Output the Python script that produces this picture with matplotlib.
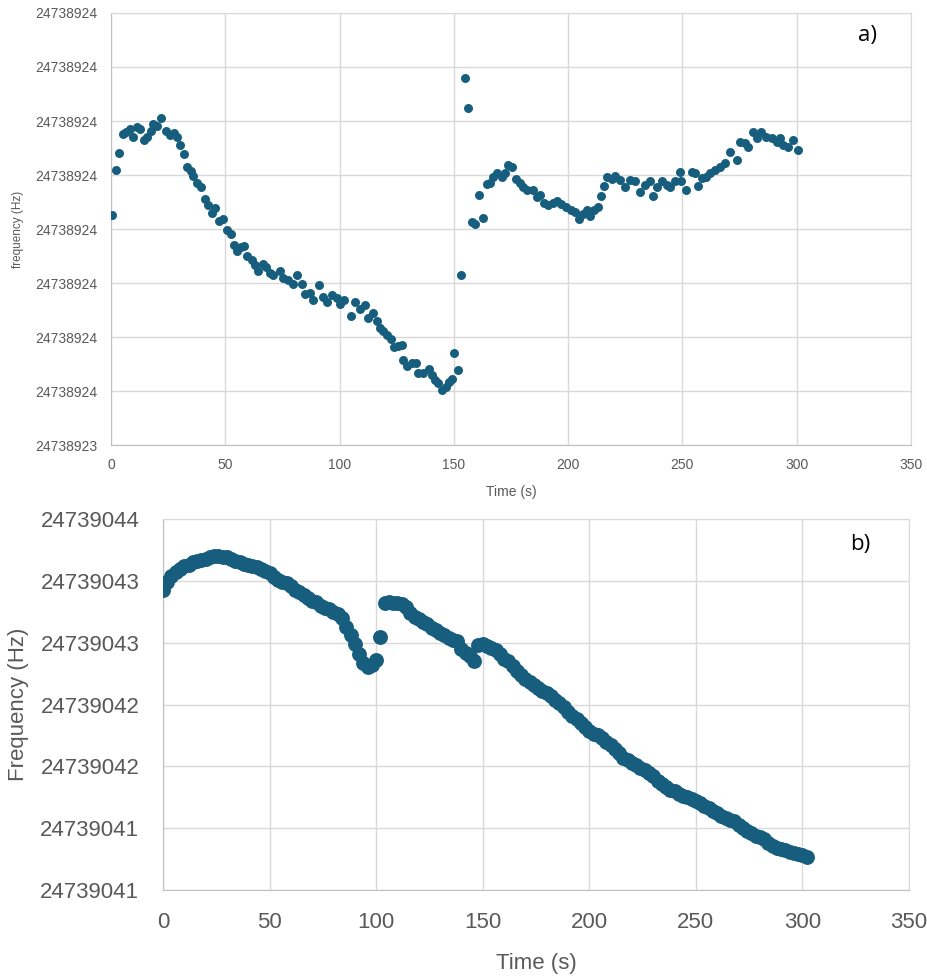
import numpy as np
import matplotlib
matplotlib.use("Agg")
import matplotlib.pyplot as plt
from matplotlib.ticker import FuncFormatter

# run a) : sampled frequency, offset from base (Hz)
BASE_A = 24738923.0
time_a = [
    0.6, 2.2, 3.6, 5.1, 6.6, 8.3, 9.7, 11.5, 12.9, 14.4, 15.9, 17.3, 18.5, 20.2,
    22.1, 24.1, 25.8, 27.5, 29.0, 30.2, 31.9, 33.1, 34.8, 36.0, 37.5, 39.6, 41.1,
    42.5, 44.0, 45.5, 47.3, 49.1, 50.6, 52.3, 53.8, 55.2, 56.7, 58.2, 59.6, 61.5,
    63.0, 64.4, 66.4, 68.0, 69.5, 71.0, 73.9, 75.4, 77.6, 79.8, 81.5, 83.4, 84.9,
    87.1, 88.2, 91.1, 92.6, 94.3, 96.5, 98.7, 100.2, 101.9, 104.8, 106.7, 108.9,
    111.1, 112.6, 114.7, 116.2, 117.7, 119.1, 120.6, 122.4, 123.8, 125.5, 127.2,
    127.9, 129.6, 131.5, 133.3, 134.5, 136.6, 139.1, 140.6, 141.7, 143.2, 144.9,
    146.4, 147.9, 149.0, 150.0, 151.9, 153.1, 154.9, 156.3, 157.8, 159.2, 161.1,
    162.6, 164.3, 165.8, 167.2, 169.0, 170.9, 172.4, 173.8, 175.3, 177.2, 178.9,
    180.4, 182.1, 184.5, 186.2, 187.7, 189.4, 191.3, 193.5, 195.2, 197.1, 199.0,
    201.1, 203.0, 204.9, 206.6, 208.1, 209.8, 211.3, 213.2, 214.2, 215.7, 217.1,
    219.0, 220.5, 222.7, 224.8, 227.0, 229.2, 231.4, 233.6, 235.8, 237.2, 238.7,
    240.9, 243.1, 244.5, 246.7, 248.9, 249.6, 251.8, 254.0, 255.5, 256.9, 258.4,
    260.3, 262.0, 264.2, 266.4, 268.6, 270.8, 273.7, 275.2, 277.3, 278.8, 281.0,
    282.5, 284.6, 286.8, 289.0, 291.2, 292.6, 294.1, 296.3, 298.5, 300.7,
]
freq_a = [
    0.826, 0.909, 0.941, 0.976, 0.980, 0.985, 0.970, 0.988, 0.985, 0.964, 0.970,
    0.982, 0.994, 0.991, 1.005, 0.982, 0.974, 0.977, 0.970, 0.956, 0.939, 0.914,
    0.908, 0.898, 0.886, 0.877, 0.855, 0.844, 0.830, 0.838, 0.815, 0.818, 0.798,
    0.791, 0.770, 0.760, 0.767, 0.769, 0.750, 0.743, 0.733, 0.723, 0.735, 0.730,
    0.718, 0.715, 0.723, 0.709, 0.706, 0.699, 0.715, 0.699, 0.680, 0.681, 0.669,
    0.696, 0.675, 0.665, 0.678, 0.672, 0.662, 0.669, 0.639, 0.665, 0.651, 0.659,
    0.635, 0.645, 0.630, 0.616, 0.612, 0.604, 0.596, 0.582, 0.584, 0.585, 0.557,
    0.546, 0.551, 0.551, 0.533, 0.534, 0.540, 0.530, 0.520, 0.514, 0.502, 0.508,
    0.517, 0.523, 0.570, 0.539, 0.715, 1.079, 1.024, 0.813, 0.809, 0.863, 0.820,
    0.883, 0.885, 0.897, 0.903, 0.896, 0.903, 0.919, 0.914, 0.892, 0.885, 0.878,
    0.873, 0.872, 0.859, 0.863, 0.848, 0.844, 0.848, 0.851, 0.846, 0.841, 0.836,
    0.832, 0.818, 0.828, 0.836, 0.824, 0.835, 0.841, 0.861, 0.880, 0.896, 0.892,
    0.898, 0.891, 0.878, 0.891, 0.888, 0.869, 0.881, 0.889, 0.861, 0.878, 0.888,
    0.881, 0.877, 0.888, 0.906, 0.888, 0.872, 0.906, 0.903, 0.880, 0.894, 0.897,
    0.903, 0.909, 0.915, 0.923, 0.943, 0.928, 0.962, 0.959, 0.952, 0.980, 0.968,
    0.980, 0.971, 0.968, 0.962, 0.968, 0.956, 0.952, 0.965, 0.946,
]

# run b) : 2 s sampling, offset from base (Hz)
BASE_B = 24739000.0
time_b = list(range(0, 304, 2))
freq_b = [
    42.93, 42.99, 43.04, 43.07, 43.10, 43.12, 43.13, 43.15, 43.16, 43.17, 43.18,
    43.19, 43.20, 43.20, 43.19, 43.19, 43.18, 43.16, 43.15, 43.14, 43.13, 43.12,
    43.11, 43.10, 43.08, 43.06, 43.03, 43.01, 42.99, 42.98, 42.96, 42.93, 42.91,
    42.89, 42.86, 42.84, 42.83, 42.80, 42.78, 42.77, 42.75, 42.73, 42.70, 42.63,
    42.56, 42.49, 42.41, 42.34, 42.30, 42.32, 42.36, 42.55, 42.82, 42.83, 42.82,
    42.82, 42.81, 42.79, 42.74, 42.71, 42.69, 42.67, 42.65, 42.62, 42.60, 42.58,
    42.56, 42.54, 42.52, 42.51, 42.45, 42.42, 42.39, 42.35, 42.48, 42.49, 42.47,
    42.46, 42.44, 42.41, 42.37, 42.35, 42.31, 42.27, 42.24, 42.21, 42.18, 42.16,
    42.13, 42.11, 42.09, 42.07, 42.04, 42.01, 41.98, 41.94, 41.91, 41.88, 41.85,
    41.82, 41.79, 41.76, 41.75, 41.73, 41.70, 41.67, 41.64, 41.61, 41.57, 41.55,
    41.53, 41.51, 41.49, 41.47, 41.45, 41.42, 41.38, 41.36, 41.33, 41.31, 41.30,
    41.28, 41.26, 41.25, 41.24, 41.22, 41.20, 41.18, 41.16, 41.14, 41.12, 41.10,
    41.08, 41.07, 41.06, 41.03, 41.00, 40.98, 40.96, 40.94, 40.93, 40.91, 40.88,
    40.86, 40.84, 40.83, 40.82, 40.81, 40.80, 40.79, 40.78, 40.77,
]

x_ticks = [0, 50, 100, 150, 200, 250, 300, 350]
y_ticks_a = [0.4, 0.5, 0.6, 0.7, 0.8, 0.9, 1.0, 1.1, 1.2]
y_ticks_b = [40.5, 41.0, 41.5, 42.0, 42.5, 43.0, 43.5]

DOT = "#175e7e"
GRID = "#d9d9d9"
TXT = "#595959"

plt.rcParams["font.family"] = ["Liberation Sans", "DejaVu Sans"]


def whole_hz(v, pos=None):
    # excel-style rounding, half away from zero
    return "%d" % int(np.floor(v + 0.5 + 1e-6))


def style_axes(ax, ticks, base, tick_fs, xpad, ypad):
    ax.set_xlim(0, 350)
    ax.set_ylim(base + ticks[0], base + ticks[-1])
    ax.set_xticks(x_ticks)
    ax.set_yticks([base + t for t in ticks])
    ax.yaxis.set_major_formatter(FuncFormatter(whole_hz))
    ax.grid(True, color=GRID, lw=1.0)
    ax.set_axisbelow(True)
    for s in ax.spines.values():
        s.set_color(GRID)
    ax.spines["left"].set_color("#bfbfbf")
    ax.spines["bottom"].set_color("#bfbfbf")
    ax.tick_params(length=0, labelsize=tick_fs, colors=TXT)
    ax.tick_params(axis="x", pad=xpad)
    ax.tick_params(axis="y", pad=ypad)


fig = plt.figure(figsize=(9.28, 9.77), dpi=100)

ax1 = fig.add_axes([0.1196, 0.5445, 0.862, 0.4422])
ax1.scatter(time_a, [BASE_A + f for f in freq_a], s=42, color=DOT, lw=0, zorder=3)
style_axes(ax1, y_ticks_a, BASE_A, 10, 9, 10)
ax1.set_xlabel("Time (s)", fontsize=10, color=TXT, labelpad=10)
ax1.set_ylabel("frequency (Hz)", fontsize=8.5, color=TXT, labelpad=8)
ax1.text(0.946, 0.947, "a)", transform=ax1.transAxes, fontsize=16,
         family=["Open Sans", "DejaVu Sans"], ha="center", va="center")

ax2 = fig.add_axes([0.1756, 0.0890, 0.804, 0.3797])
ax2.scatter(time_b, [BASE_B + f for f in freq_b], s=115, color=DOT, lw=0, zorder=3)
style_axes(ax2, y_ticks_b, BASE_B, 16, 16, 17)
ax2.set_xlabel("Time (s)", fontsize=16, color=TXT, labelpad=14)
ax2.set_ylabel("Frequency (Hz)", fontsize=16, color=TXT, labelpad=8)
ax2.text(0.934, 0.932, "b)", transform=ax2.transAxes, fontsize=16,
         family=["Open Sans", "DejaVu Sans"], ha="center", va="center")

fig.savefig("out.png", dpi=100, facecolor="white")
